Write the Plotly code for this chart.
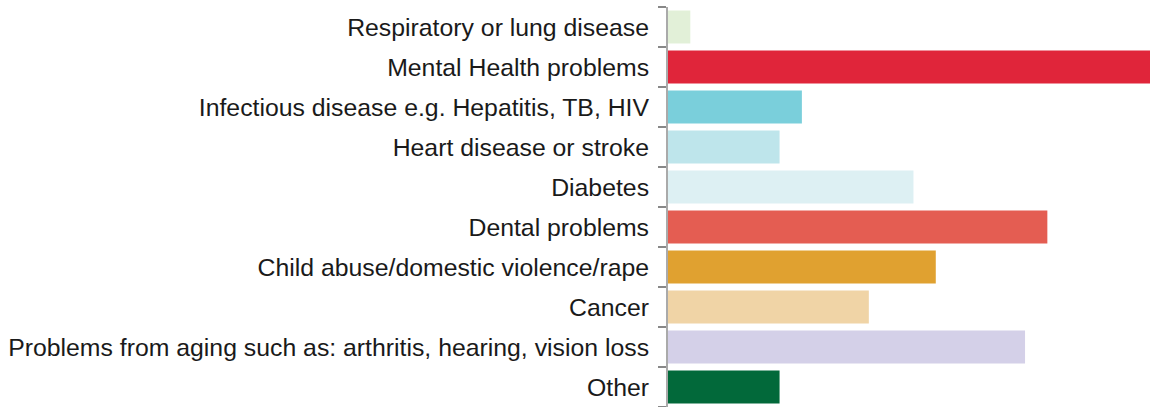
import plotly.graph_objects as go

# Health problems, listed top to bottom
categories = [
    "Respiratory or lung disease",
    "Mental Health problems",
    "Infectious disease e.g. Hepatitis, TB, HIV",
    "Heart disease or stroke",
    "Diabetes",
    "Dental problems",
    "Child abuse/domestic violence/rape",
    "Cancer",
    "Problems from aging such as: arthritis, hearing, vision loss",
    "Other",
]
counts = [1, 22, 6, 5, 11, 17, 12, 9, 16, 5]
colors = [
    "#e2f0d8", "#e0253a", "#7acfdb", "#bee5eb", "#ddf0f3",
    "#e45d52", "#e0a130", "#f0d4a6", "#d4d0e8", "#02693a",
]

fig = go.Figure(
    go.Bar(
        x=counts,
        y=categories,
        orientation="h",
        marker=dict(color=colors, line=dict(width=0)),
        width=0.825,
        hoverinfo="x+y",
    )
)

fig.update_layout(
    width=1150,
    height=407,
    margin=dict(l=668, r=0, t=7, b=0),
    paper_bgcolor="white",
    plot_bgcolor="white",
    showlegend=False,
    font=dict(family="Liberation Sans Narrow, Arial Narrow, sans-serif", size=24.8, color="#1a1a1a"),
    xaxis=dict(
        range=[0, 21.6],
        showgrid=False,
        zeroline=False,
        showticklabels=False,
        ticks="",
        showline=False,
        automargin=False,
    ),
    yaxis=dict(
        categoryorder="array",
        categoryarray=categories[::-1],
        autorange=False,
        range=[-0.5, 9.5],
        automargin=False,
        showgrid=False,
        zeroline=False,
        showline=True,
        linecolor="#aaaaaa",
        linewidth=2,
        ticks="outside",
        tickson="boundaries",
        ticklen=8,
        tickwidth=1.5,
        tickcolor="#888888",
        ticklabelstandoff=12,
    ),
)

fig.write_html("out.html")
